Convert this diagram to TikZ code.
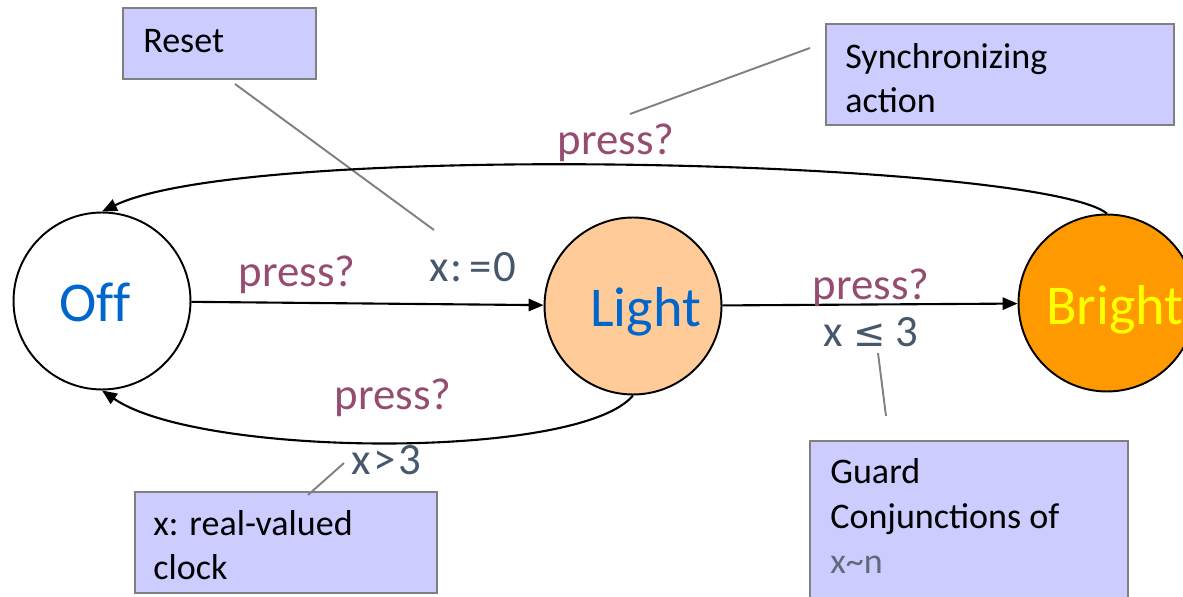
\documentclass[tikz,border=0pt]{standalone}
\usepackage{fontspec}
\setmainfont{Carlito}
\newfontfamily\symfont{DejaVu Sans}
\usetikzlibrary{arrows.meta}
\definecolor{actcol}{RGB}{150,76,112}
\definecolor{guardcol}{RGB}{72,88,108}
\definecolor{tildecol}{RGB}{95,107,122}
\definecolor{notefill}{RGB}{204,204,255}
\definecolor{noteedge}{RGB}{128,128,128}
\definecolor{offblue}{RGB}{0,102,204}
\definecolor{lightfill}{RGB}{255,204,153}
\definecolor{brightfill}{RGB}{255,153,0}
\definecolor{brighttext}{RGB}{255,255,0}
\begin{document}
\begin{tikzpicture}[x=0.02cm,y=-0.02cm,
  state/.style={circle,draw=black,line width=1.1pt,minimum size=3.54cm,inner sep=0pt},
  statetext/.style={font=\fontsize{32}{38}\selectfont,inner sep=0pt,anchor=base west},
  act/.style={text=actcol,font=\fontsize{25.5}{30}\selectfont,inner sep=0pt,anchor=base},
  grd/.style={text=guardcol,font=\fontsize{25.5}{30}\selectfont,inner sep=0pt,anchor=base},
  trans/.style={line width=1.2pt,-{Triangle[length=8.5pt,width=7pt]}},
  notebox/.style={draw=noteedge,fill=notefill,line width=1.2pt,anchor=north west,inner sep=0pt},
  notetext/.style={font=\fontsize{20.5}{25.6}\selectfont,align=left,anchor=base west,inner sep=0pt},
  leader/.style={draw=noteedge,line width=1.1pt}]
\useasboundingbox (0,0) rectangle (1183,597);
\clip (0,0) rectangle (1183,597);

% annotation boxes
\node[notebox,minimum width=3.86cm,minimum height=1.42cm] (resetbox) at (122,7) {};
\node[notebox,minimum width=6.96cm,minimum height=2.02cm] (syncbox) at (825,23) {};
\node[notebox,minimum width=6.04cm,minimum height=2.02cm] (clockbox) at (134,491) {};
\node[notebox,minimum width=6.36cm,minimum height=3.6cm] (guardbox) at (809,440) {};
% (multi-line notes are placed by the baseline of their last line)
\node[notetext] (resettxt) at (143,53) {Reset};
\node[notetext] (synctxt) at (845,113) {Synchronizing\\action};
\node[notetext] (clocktxt) at (153,580) {x: real-valued\\clock};
\node[notetext] (guardtxt) at (830,573) {Guard\\Conjunctions of\\{\color{tildecol}x\textasciitilde n}};

% leader lines from the notes
\coordinate (resetA) at (235,84);  \coordinate (resetB) at (434,230);
\coordinate (syncA) at (810,48);   \coordinate (syncB) at (630,114);
\coordinate (clockA) at (344,463); \coordinate (clockB) at (308,495);
\coordinate (guardA) at (878,353); \coordinate (guardB) at (886,416);
\draw[leader] (resetA) -- (resetB);
\draw[leader] (syncA) -- (syncB);
\draw[leader] (clockA) -- (clockB);
\draw[leader] (guardA) -- (guardB);

% locations
\node[state] (off) at (102,301) {};
\node[state,fill=lightfill] (light) at (633,306) {};
\node[state,fill=brightfill] (bright) at (1107,303) {};
\node[statetext,text=offblue] (offlbl) at (59,322) {Of\kern0ptf};
\node[statetext,text=offblue] (lightlbl) at (590,327) {Light};
\node[statetext,text=brighttext] (brightlbl) at (1046,325) {Bright};

% transitions
\draw[trans] (off) -- (light);
\draw[trans] (light) -- (bright);
\draw[trans] (bright.north) .. controls (1040,160) and (250,140) .. (off.north);
\draw[trans] (light.south) .. controls (580,460) and (200,458) .. (off.south);

% transition labels
\node[act] (p1) at (297,287) {press?};
\node[grd] (reset) at (473,282) {x\kern1pt:\kern4pt=\kern1pt0};
\node[act] (p2) at (616,155) {press?};
\node[act] (p3) at (871,300) {press?};
\node[grd] (g1) at (871,347) {x {\symfont\fontsize{22}{26}\selectfont ≤} 3};
\node[act] (p4) at (393,410) {press?};
\node[grd] (g2) at (386,475) {x\kern1.5pt>\kern1.5pt3};
\end{tikzpicture}
\end{document}
